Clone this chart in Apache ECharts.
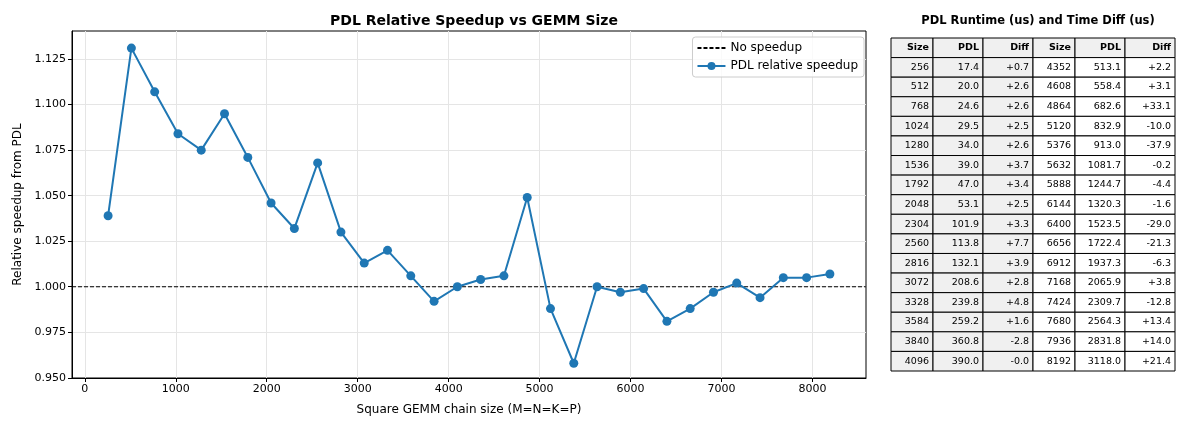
<!DOCTYPE html>
<html>
<head>
<meta charset="utf-8">
<script src="https://cdn.jsdelivr.net/npm/echarts@6/dist/echarts.min.js"></script>
<style>
  html, body { margin: 0; padding: 0; background: #fff; }
  #chart { width: 1200px; height: 428px; }
</style>
</head>
<body>
<div id="chart"></div>
<script>
// gemm sizes (M=N=K=P)
const sizes = [256, 512, 768, 1024, 1280, 1536, 1792, 2048, 2304, 2560, 2816, 3072, 3328, 3584, 3840, 4096,
  4352, 4608, 4864, 5120, 5376, 5632, 5888, 6144, 6400, 6656, 6912, 7168, 7424, 7680, 7936, 8192];
// relative speedup
const speedup = [1.039, 1.131, 1.107, 1.084, 1.075, 1.095, 1.071, 1.046, 1.032, 1.068, 1.030, 1.013, 1.020, 1.006, 0.992, 1.000,
  1.004, 1.006, 1.049, 0.988, 0.958, 1.000, 0.997, 0.999, 0.981, 0.988, 0.997, 1.002, 0.994, 1.005, 1.005, 1.007];
// table columns
const pdlRuntime = ['17.4', '20.0', '24.6', '29.5', '34.0', '39.0', '47.0', '53.1', '101.9', '113.8', '132.1', '208.6', '239.8', '259.2', '360.8', '390.0',
  '513.1', '558.4', '682.6', '832.9', '913.0', '1081.7', '1244.7', '1320.3', '1523.5', '1722.4', '1937.3', '2065.9', '2309.7', '2564.3', '2831.8', '3118.0'];
const timeDiff = ['+0.7', '+2.6', '+2.6', '+2.5', '+2.6', '+3.7', '+3.4', '+2.5', '+3.3', '+7.7', '+3.9', '+2.8', '+4.8', '+1.6', '-2.8', '-0.0',
  '+2.2', '+3.1', '+33.1', '-10.0', '-37.9', '-0.2', '-4.4', '-1.6', '-29.0', '-21.3', '-6.3', '+3.8', '-12.8', '+13.4', '+14.0', '+21.4'];
const headers = ['Size', 'PDL', 'Diff', 'Size', 'PDL', 'Diff'];
const xTicks = [0, 1000, 2000, 3000, 4000, 5000, 6000, 7000, 8000];
const yTicks = [0.950, 0.975, 1.000, 1.025, 1.050, 1.075, 1.100, 1.125];
const noSpeedup = 1.0;

const FONT = 'DejaVu Sans';
const xMin = -141, xMax = 8589;

// table column edges (px units of the table grid)
const colEdges = [0, 42, 92, 142, 184, 234, 284];
const half = sizes.length / 2;
const cells = [];
headers.forEach((h, c) => cells.push({value: [c, 0], text: h, head: true, shade: true}));
for (let i = 0; i < half; i++) {
  const j = i + half;
  [String(sizes[i]), pdlRuntime[i], timeDiff[i], String(sizes[j]), pdlRuntime[j], timeDiff[j]].forEach((t, c) => {
    cells.push({value: [c, i + 1], text: t, head: false, shade: c < 3});
  });
}

const tableRender = (params, api) => {
  const cell = cells[params.dataIndex];
  const c = api.value(0), r = api.value(1);
  const p0 = api.coord([colEdges[c], r]);
  const p1 = api.coord([colEdges[c + 1], r + 1]);
  return {
    type: 'group',
    children: [
      {
        type: 'rect',
        shape: {x: p0[0], y: p0[1], width: p1[0] - p0[0], height: p1[1] - p0[1]},
        style: {fill: cell.shade ? '#f0f0f0' : '#ffffff', stroke: '#000', lineWidth: 1}
      },
      {
        type: 'text',
        style: {
          x: p1[0] - 4, y: (p0[1] + p1[1]) / 2,
          text: cell.text, align: 'right', verticalAlign: 'middle',
          fontFamily: FONT, fontSize: 9.5, fontWeight: cell.head ? 'bold' : 'normal', fill: '#000'
        }
      }
    ]
  };
};

const chart = echarts.init(document.getElementById('chart'), null, {renderer: 'canvas'});
const option = {
  animation: false,
  backgroundColor: '#fff',
  textStyle: {fontFamily: FONT},
  title: [
    {
      text: 'PDL Relative Speedup vs GEMM Size',
      left: 469, top: 9, textAlign: 'center',
      textStyle: {fontFamily: FONT, fontSize: 14, fontWeight: 'bold', color: '#000'}
    },
    {
      text: 'PDL Runtime (us) and Time Diff (us)',
      left: 1033, top: 10, textAlign: 'center',
      textStyle: {fontFamily: FONT, fontSize: 11.5, fontWeight: 'bold', color: '#000'}
    }
  ],
  legend: {
    right: 336, top: 37,
    orient: 'vertical',
    itemWidth: 28, itemHeight: 10, itemGap: 6,
    padding: [5, 6, 5, 4],
    backgroundColor: 'rgba(255,255,255,0.8)',
    borderColor: '#cccccc', borderWidth: 1, borderRadius: 3,
    textStyle: {fontFamily: FONT, fontSize: 12, color: '#000'},
    data: [
      {name: 'No speedup', itemStyle: {color: 'rgba(0,0,0,0)', borderWidth: 0}},
      {name: 'PDL relative speedup'}
    ]
  },
  grid: [
    {left: 72, top: 31, width: 794, height: 347, show: true, borderColor: '#000', borderWidth: 1, backgroundColor: 'transparent'},
    {left: 891, top: 38, width: 284, height: 333}
  ],
  xAxis: [
    {
      type: 'value', gridIndex: 0, min: xMin, max: xMax,
      name: 'Square GEMM chain size (M=N=K=P)', nameLocation: 'middle', nameGap: 26,
      nameTextStyle: {fontFamily: FONT, fontSize: 12, color: '#000'},
      axisLine: {show: true, onZero: false, lineStyle: {color: '#000', width: 1}},
      axisTick: {show: true, length: 4, inside: false, customValues: xTicks, lineStyle: {color: '#000'}},
      axisLabel: {customValues: xTicks, fontFamily: FONT, fontSize: 11, color: '#000', margin: 6,
        formatter: (v) => String(v)},
      splitLine: {show: true, lineStyle: {color: '#e5e5e5', width: 1}}
    },
    {type: 'value', gridIndex: 1, min: 0, max: 284, show: false}
  ],
  yAxis: [
    {
      type: 'value', gridIndex: 0, min: 0.9499, max: 1.1404,
      name: 'Relative speedup from PDL', nameLocation: 'middle', nameGap: 47, nameRotate: 90,
      nameTextStyle: {fontFamily: FONT, fontSize: 12, color: '#000'},
      axisLine: {show: true, onZero: false, lineStyle: {color: '#000', width: 1}},
      axisTick: {show: true, length: 4, inside: false, customValues: yTicks, lineStyle: {color: '#000'}},
      axisLabel: {customValues: yTicks, fontFamily: FONT, fontSize: 11, color: '#000', margin: 6,
        formatter: (v) => v.toFixed(3)},
      splitLine: {show: true, lineStyle: {color: '#e5e5e5', width: 1}}
    },
    {type: 'value', gridIndex: 1, min: 0, max: 17, inverse: true, show: false}
  ],
  series: [
    {
      name: 'No speedup',
      type: 'line',
      xAxisIndex: 0, yAxisIndex: 0,
      symbol: 'none',
      data: [[xMin, noSpeedup], [xMax, noSpeedup]],
      lineStyle: {color: '#000', width: 1.2, type: [4, 2]},
      itemStyle: {color: '#000'},
      z: 2
    },
    {
      name: 'PDL relative speedup',
      type: 'line',
      xAxisIndex: 0, yAxisIndex: 0,
      symbol: 'circle', symbolSize: 9, showAllSymbol: true,
      data: sizes.map((s, i) => [s, speedup[i]]),
      lineStyle: {color: '#1f77b4', width: 2},
      itemStyle: {color: '#1f77b4'},
      z: 3
    },
    {
      name: 'table',
      type: 'custom',
      xAxisIndex: 1, yAxisIndex: 1,
      renderItem: tableRender,
      data: cells.map((c) => c.value),
      silent: true
    }
  ]
};
option && chart.setOption(option);
</script>
</body>
</html>
